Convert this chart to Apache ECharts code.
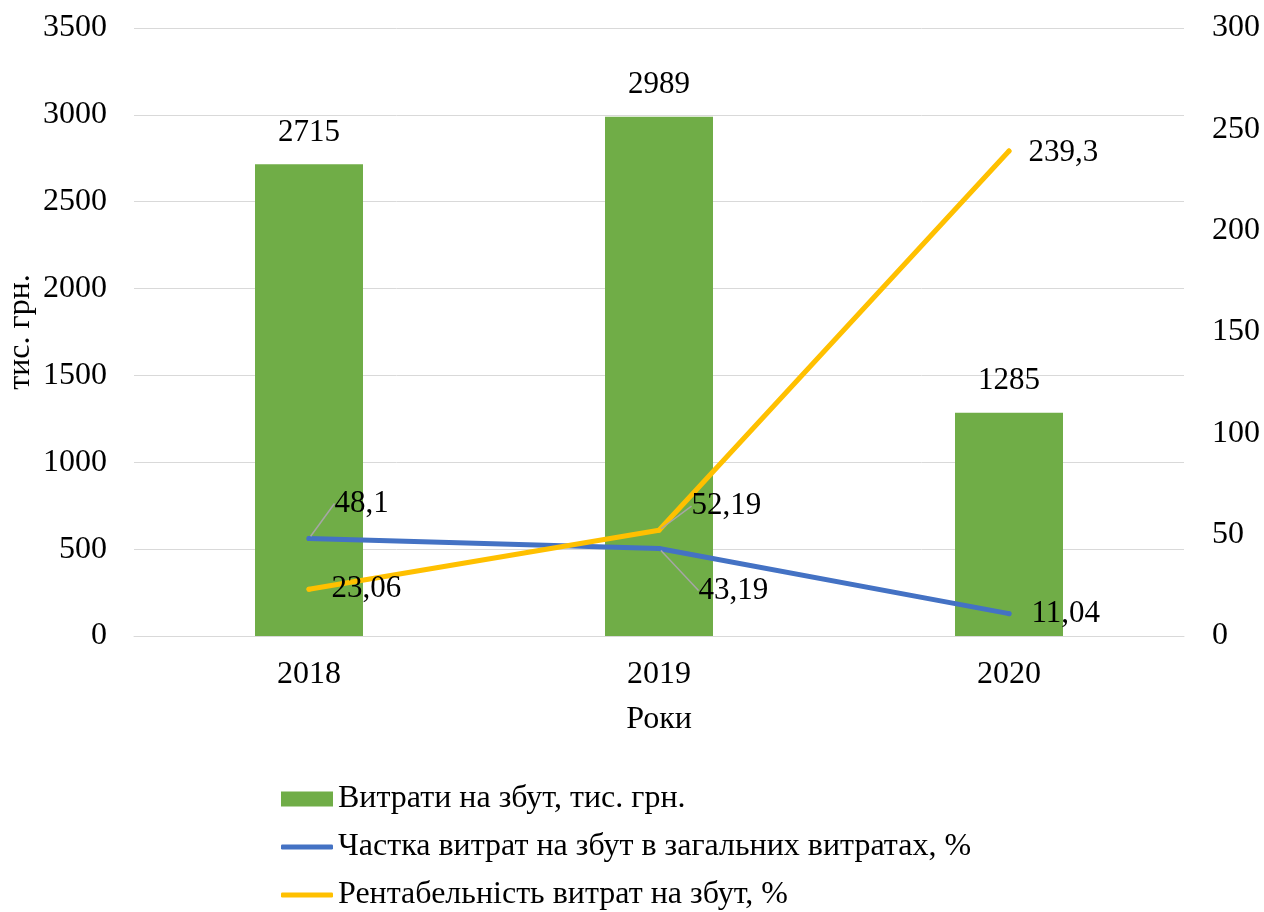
<!DOCTYPE html>
<html>
<head>
<meta charset="utf-8">
<script src="https://cdn.jsdelivr.net/npm/echarts@6/dist/echarts.min.js"></script>
<style>
  html, body { margin: 0; padding: 0; background: #fff; }
  #chart { width: 1264px; height: 912px; }
</style>
</head>
<body>
<div id="chart"></div>
<script>
// дані діаграми
var years = ['2018', '2019', '2020'];
var salesCost = [2715, 2989, 1285];          // Витрати на збут, тис. грн.
var shareCost = [48.1, 43.19, 11.04];        // Частка витрат на збут, %
var profitability = [23.06, 52.19, 239.3];   // Рентабельність витрат на збут, %
var leftTicks = { min: 0, max: 3500, interval: 500 };
var rightTicks = { min: 0, max: 300, interval: 50 };

var nameBar = 'Витрати на збут, тис. грн.';
var nameShare = 'Частка витрат на збут в загальних витратах, %';
var nameProfit = 'Рентабельність витрат на збут, %';

// зсув підписів ліній (dx, dy) і чи малювати виносну лінію
var shareShift = [[18, -35, true], [32, 42, true], [15, 0, false]];
var profitShift = [[15, 0, false], [25, -24, true], [12, 2, false]];

var serif = '"Liberation Serif", "Times New Roman", serif';
var txt = { fontFamily: serif, fontSize: 32, color: '#000' };
var lbl = { fontFamily: serif, fontSize: 31, color: '#000' };

function fmt(v) {
    return String(v).replace('.', ',');
}
function plain(v) {
    return String(v);
}
function lineData(values, shift) {
    return values.map(function (v, i) {
        return { value: v, labelLine: { show: shift[i][2] } };
    });
}
function shiftLayout(shift) {
    return function (p) {
        var s = shift[p.dataIndex];
        return { dx: s[0], dy: s[1] };
    };
}

var chart = echarts.init(document.getElementById('chart'));
var option = {
    animation: false,
    grid: { left: 134, right: 80, top: 28, bottom: 276, outerBoundsMode: 'none' },
    legend: [{
        orient: 'vertical',
        left: 281,
        top: 782,
        height: 40,
        padding: 0,
        itemWidth: 52,
        itemHeight: 15,
        itemGap: 14,
        icon: 'rect',
        textStyle: Object.assign({ lineHeight: 34 }, txt),
        data: [nameBar]
    }, {
        orient: 'vertical',
        left: 281,
        top: 830,
        height: 90,
        padding: 0,
        itemWidth: 52,
        itemHeight: 5,
        itemGap: 14,
        icon: 'roundRect',
        textStyle: Object.assign({ lineHeight: 34 }, txt),
        data: [nameShare, nameProfit]
    }],
    xAxis: {
        type: 'category',
        data: years,
        name: 'Роки',
        nameLocation: 'middle',
        nameGap: 68,
        nameMoveOverlap: false,
        nameTextStyle: txt,
        axisLine: { lineStyle: { color: '#d9d9d9', width: 1 } },
        axisTick: { show: false },
        axisLabel: Object.assign({ margin: 23 }, txt)
    },
    yAxis: [{
        type: 'value',
        min: leftTicks.min,
        max: leftTicks.max,
        interval: leftTicks.interval,
        name: 'тис. грн.',
        nameLocation: 'middle',
        nameGap: 97,
        nameRotate: 90,
        nameMoveOverlap: false,
        nameTextStyle: txt,
        axisLine: { show: false },
        axisTick: { show: false },
        splitLine: { lineStyle: { color: '#d9d9d9', width: 1 } },
        axisLabel: Object.assign({ margin: 27, formatter: plain }, txt)
    }, {
        type: 'value',
        min: rightTicks.min,
        max: rightTicks.max,
        interval: rightTicks.interval,
        axisLine: { show: false },
        axisTick: { show: false },
        splitLine: { show: false },
        axisLabel: Object.assign({ margin: 28, formatter: plain }, txt)
    }],
    series: [{
        name: nameBar,
        type: 'bar',
        data: salesCost,
        barWidth: 108,
        itemStyle: { color: '#70AD47' },
        label: Object.assign({ show: true, position: 'top', distance: 16 }, lbl)
    }, {
        name: nameShare,
        type: 'line',
        yAxisIndex: 1,
        data: lineData(shareCost, shareShift),
        symbol: 'circle',
        symbolSize: 5,
        itemStyle: { color: '#4472C4' },
        lineStyle: { color: '#4472C4', width: 5, cap: 'round' },
        label: Object.assign({ show: true, position: 'right', distance: 5,
            formatter: function (p) { return fmt(p.value); } }, lbl),
        labelLine: { show: true, lineStyle: { color: '#a6a6a6', width: 1.5 } },
        labelLayout: shiftLayout(shareShift)
    }, {
        name: nameProfit,
        type: 'line',
        yAxisIndex: 1,
        data: lineData(profitability, profitShift),
        symbol: 'circle',
        symbolSize: 5,
        itemStyle: { color: '#FFC000' },
        lineStyle: { color: '#FFC000', width: 5, cap: 'round' },
        label: Object.assign({ show: true, position: 'right', distance: 5,
            formatter: function (p) { return fmt(p.value); } }, lbl),
        labelLine: { show: true, lineStyle: { color: '#a6a6a6', width: 1.5 } },
        labelLayout: shiftLayout(profitShift)
    }]
};
chart.setOption(option);
</script>
</body>
</html>
